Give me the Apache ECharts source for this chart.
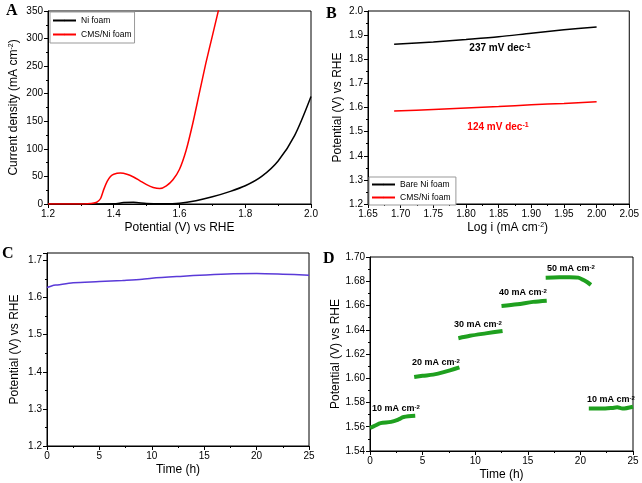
<!DOCTYPE html>
<html><head><meta charset="utf-8">
<script src="https://cdn.jsdelivr.net/npm/echarts@6/dist/echarts.min.js"></script>
<style>html,body{margin:0;padding:0;background:#fff}#c{width:642px;height:483px}</style>
</head><body><div id="c"></div>
<script>
// Panel A: LSV curves [potential V, current density mA cm-2]
const aNiFoam = [[1.20,0],[1.30,0],[1.40,0.5],[1.43,2.5],[1.46,3],[1.50,1],[1.55,0.5],[1.60,1.5],[1.65,6],[1.70,13],[1.75,22],[1.80,33],[1.85,50],[1.90,78],[1.95,124],[2.00,195]];
const aCMS = [[1.20,0],[1.30,0],[1.32,0.5],[1.34,2],[1.35,4],[1.36,10],[1.37,27],[1.38,41],[1.39,50],[1.40,54],[1.42,56],[1.44,54],[1.46,49],[1.48,42],[1.50,35],[1.52,30],[1.54,28],[1.56,33],[1.58,44],[1.60,63],[1.62,97],[1.64,145],[1.66,200],[1.68,255],[1.70,305],[1.72,355]];
// Panel B: Tafel plots [log i, potential]
const bBare = [[1.69,1.862],[1.75,1.872],[1.80,1.882],[1.85,1.893],[1.90,1.908],[1.95,1.922],[2.00,1.934]];
const bCMS = [[1.69,1.585],[1.75,1.592],[1.80,1.598],[1.85,1.604],[1.90,1.611],[1.95,1.617],[2.00,1.624]];
const bSlopes = ['237 mV dec', '124 mV dec'];
// Panel C: chronopotentiometry [time h, potential]
const cStab = [[0,1.627],[0.5,1.632],[1,1.634],[2.5,1.640],[5,1.643],[7.2,1.646],[9.1,1.649],[10,1.652],[12.7,1.657],[15.2,1.661],[17.8,1.664],[20,1.665],[22.5,1.663],[25,1.660]];
// Panel D: multi-step chronopotentiometry segments
const dSeg1 = [[0,1.559],[0.5,1.561],[1,1.563],[2,1.564],[2.7,1.566],[3.2,1.568],[4.3,1.569]];
const dSeg2 = [[4.2,1.601],[5,1.602],[6,1.603],[7,1.605],[8.5,1.609]];
const dSeg3 = [[8.4,1.633],[9.5,1.635],[11,1.637],[12.6,1.639]];
const dSeg4 = [[12.5,1.6595],[14,1.661],[15.5,1.663],[16.8,1.664]];
const dSeg5 = [[16.7,1.6828],[18,1.6832],[19,1.6834],[19.8,1.683],[20.3,1.681],[20.7,1.679],[21.0,1.677]];
const dSeg6 = [[20.8,1.575],[22,1.575],[23,1.5755],[23.5,1.576],[24,1.575],[25,1.5765]];
const dLabels = ['10 mA cm','20 mA cm','30 mA cm','40 mA cm','50 mA cm','10 mA cm'];

const FONT = 'Liberation Sans, Arial, sans-serif';
const chart = echarts.init(document.getElementById('c'));
const richName = {t:{fontSize:12,fontFamily:FONT,color:'#000'}, s:{fontSize:7,fontFamily:FONT,color:'#000',verticalAlign:'top'}};
function xAx(gi, min, max, interval, dec, name, gap, pad){
  return {type:'value', gridIndex:gi, min, max, interval, position:'bottom',
    axisLine:{show:true,onZero:false,lineStyle:{color:'#000',width:1}},
    axisTick:{show:true,inside:false,length:4,lineStyle:{color:'#000'}},
    minorTick:{show:true,splitNumber:2,length:2,lineStyle:{color:'#000'}},
    splitLine:{show:false}, minorSplitLine:{show:false},
    axisLabel:{fontSize:10,fontFamily:FONT,color:'#000',margin:5,formatter:v=>v.toFixed(dec)},
    name, nameLocation:'middle', nameGap:gap, nameTextStyle:{rich:richName, padding:pad||0}};
}
function yAx(gi, min, max, interval, dec, name, gap, hideMax){
  return {type:'value', gridIndex:gi, min, max, interval,
    axisLine:{show:true,onZero:false,lineStyle:{color:'#000',width:1}},
    axisTick:{show:true,inside:false,length:4,lineStyle:{color:'#000'}},
    minorTick:{show:true,splitNumber:2,length:2,lineStyle:{color:'#000'}},
    splitLine:{show:false}, minorSplitLine:{show:false},
    axisLabel:{fontSize:10,fontFamily:FONT,color:'#000',margin:5,showMaxLabel:!hideMax,formatter:v=>v.toFixed(dec)},
    name, nameLocation:'middle', nameGap:gap, nameTextStyle:{rich:richName}};
}
function ln(name, xi, data, color, width, sm){
  return {type:'line', name, xAxisIndex:xi, yAxisIndex:xi, data, symbol:'none', smooth:sm,
    lineStyle:{color, width}, itemStyle:{color}, clip:true, animation:false};
}
function sup(x,y,main,exp,color,size){
  return {type:'text', x, y, style:{text:'{n|'+main+'}{s|'+exp+'}', align:'center', verticalAlign:'middle',
    rich:{n:{fontSize:size,fontWeight:'bold',fontFamily:FONT,fill:color,color:color}, s:{fontSize:size-3,fontWeight:'bold',fontFamily:FONT,fill:color,color:color,verticalAlign:'top'}}}};
}
function letter(x,y,t){
  return {type:'text', x, y, style:{text:t, font:'bold 16px "Liberation Serif", "Times New Roman", serif', fill:'#000'}};
}
const gridStyle = {show:true, borderColor:'#000', borderWidth:1, backgroundColor:'transparent'};
const legendText = {fontSize:8.5,fontFamily:FONT,color:'#000'};
const option = {
  animation:false,
  grid:[
    Object.assign({left:48, top:11, width:263, height:193}, gridStyle),
    Object.assign({left:368, top:11, width:267, height:193}, gridStyle),
    Object.assign({left:47, top:253, width:262, height:193}, gridStyle),
    Object.assign({left:370, top:257, width:263, height:194}, gridStyle)
  ],
  xAxis:[
    xAx(0,1.2,2.0,0.2,1,'{t|Potential (V) vs RHE}',18),
    xAx(1,1.65,2.05,0.05,2,'{t|Log i (mA cm}{s|-2}{t|)}',18,[0,0,0,18]),
    xAx(2,0,25,5,0,'{t|Time (h)}',18),
    xAx(3,0,25,5,0,'{t|Time (h)}',18)
  ],
  yAxis:[
    yAx(0,0,350,50,0,'{t|Current density (mA cm}{s|-2}{t|)}',28),
    yAx(1,1.2,2.0,0.1,1,'{t|Potential (V) vs RHE}',24),
    yAx(2,1.2,1.72,0.1,1,'{t|Potential (V) vs RHE}',26,true),
    yAx(3,1.54,1.70,0.02,2,'{t|Potential (V) vs RHE}',28)
  ],
  legend:[
    {left:50, top:12, orient:'vertical', data:['Ni foam','CMS/Ni foam'], itemWidth:23, itemHeight:2, itemGap:5,
     padding:[4,3,4,2], borderColor:'#999', borderWidth:1, backgroundColor:'#fff', textStyle:legendText},
    {left:369, top:177, orient:'vertical', data:['Bare Ni foam','CMS/Ni foam '], itemWidth:23, itemHeight:2, itemGap:4,
     padding:[3,3,3,2], borderColor:'#999', borderWidth:1, backgroundColor:'#fff', textStyle:legendText}
  ],
  series:[
    ln('Ni foam',0,aNiFoam,'#000',1.5,0.3),
    ln('CMS/Ni foam',0,aCMS,'#ff0000',1.5,0.25),
    ln('Bare Ni foam',1,bBare,'#000',1.5,0.3),
    ln('CMS/Ni foam ',1,bCMS,'#ff0000',1.5,0.3),
    ln('stab',2,cStab,'#5a3ad8',1.5,0.3),
    ln('d1',3,dSeg1,'#1fa01f',4,0.3),
    ln('d2',3,dSeg2,'#1fa01f',4,0.3),
    ln('d3',3,dSeg3,'#1fa01f',4,0.3),
    ln('d4',3,dSeg4,'#1fa01f',4,0.3),
    ln('d5',3,dSeg5,'#1fa01f',4,0.3),
    ln('d6',3,dSeg6,'#1fa01f',4,0.3)
  ],
  graphic:[
    letter(6,3,'A'), letter(326,6,'B'), letter(2,246,'C'), letter(323,251,'D'),
    sup(500,48,bSlopes[0],'-1','#000',10),
    sup(498,127,bSlopes[1],'-1','#ff0000',10),
    sup(396,409,dLabels[0],'-2','#000',9),
    sup(436,363,dLabels[1],'-2','#000',9),
    sup(478,325,dLabels[2],'-2','#000',9),
    sup(523,293,dLabels[3],'-2','#000',9),
    sup(571,269,dLabels[4],'-2','#000',9),
    sup(611,400,dLabels[5],'-2','#000',9)
  ]
};
chart.setOption(option);
</script></body></html>
